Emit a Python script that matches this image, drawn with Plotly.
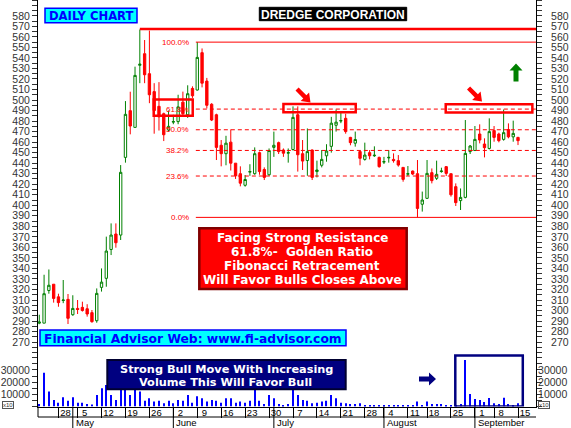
import math
import plotly.graph_objects as go
import pandas as pd

# ---------------- data ----------------
HOLIDAYS = ["2008-05-01", "2008-08-01", "2008-08-15", "2008-09-03"]
dates = [d.strftime("%Y-%m-%d") for d in pd.bdate_range("2008-04-22", "2008-09-15")
         if d.strftime("%Y-%m-%d") not in HOLIDAYS]

open_ = [288, 288, 319, 325, 313, 309.5, 310.6, 296, 302, 303,
         301.7, 298, 290.3, 322, 330.6, 358, 372.7, 371.7, 445.5, 489.9,
         474, 533, 544, 525, 508, 494, 487, 471.5, 479, 479.5,
         498, 486, 511, 509.5, 545, 518, 496, 486, 457, 449,
         460, 440, 430, 419, 431.5, 430, 450, 434, 429, 455,
         459.5, 452.5, 449.5, 453, 486, 449, 442.5, 452.5, 432, 438,
         447, 456, 476, 480, 482.6, 464.5, 459, 451, 443.6, 450,
         447, 445.5, 441, 445, 443.6, 442.4, 436, 429.5, 432.5, 430,
         401, 406.6, 431, 425.6, 432, 436.7, 430, 417.7, 404.4, 407.5,
         451, 452, 467.7, 458.2, 454, 471, 467.7, 462.6, 472, 465,
         464.5]
high = [296, 334, 339, 325, 316, 329, 315.7, 314.5, 310, 308.4,
        306, 300.5, 321, 340, 370.2, 382.8, 382.8, 438.2, 499, 507.9,
        531.7, 567, 557, 566, 516, 517, 488, 490, 486, 505,
        508, 514, 513, 555, 549, 521, 497, 487, 462, 466,
        472, 440, 437, 428.7, 439, 455, 451, 436, 454, 470,
        460.5, 454, 454, 494, 494, 462, 473, 453, 442.4, 452.5,
        458, 484, 491, 489, 487, 465, 470, 452, 459.5, 452.5,
        456, 446.2, 446, 452.5, 449.3, 447.7, 436, 437.3, 433, 443,
        413, 443, 435, 442.4, 435.7, 437.3, 430, 420.8, 416, 481,
        457.3, 475.3, 476.9, 463.6, 482.6, 475.3, 469, 491, 477.8, 480.4,
        465]
low = [287, 288, 316, 307.5, 303.6, 307, 287.2, 295, 296.7, 299,
       294.2, 288.4, 288.4, 318, 322.6, 352.7, 359.7, 367, 440.5, 467.4,
       474, 516, 516, 497, 468, 471, 461, 470, 477, 477,
       484, 483, 502, 509, 512, 492, 480, 443, 437, 438,
       433, 425, 418, 417.7, 428, 429, 429, 424, 428, 446,
       448.7, 446, 440.5, 452, 432, 433.5, 428, 424, 426.5, 436,
       441.4, 450, 470, 478, 468, 457, 455.7, 438, 442.4, 443.6,
       446, 435.7, 439.2, 440.5, 440.5, 436.7, 422.4, 427.8, 428.7, 388.5,
       394, 406, 420.8, 424, 431, 427.8, 408.2, 399.3, 395.5, 406.6,
       448.7, 451.9, 458.8, 445.5, 453, 460.4, 459.8, 461.4, 463.6, 460.4,
       457.2]
close = [289, 316, 324, 311.5, 307.5, 310, 292.6, 302, 301, 300,
         296.7, 289.4, 316.3, 327, 356.5, 371.7, 364.4, 431.3, 486.4, 475.3,
         523.4, 534, 524, 505, 490, 484, 467, 475, 479.5, 493.5,
         487, 506, 504, 540.5, 516, 495, 481, 455, 449, 459,
         440, 428, 421, 424.5, 432, 449, 432, 426.5, 452, 457,
         451, 449.5, 450, 483.5, 448, 442, 451, 426.5, 433.5, 443.6,
         451.5, 478, 479, 480.5, 470, 459.5, 462.5, 444.6, 447.7, 447,
         447.5, 436.7, 441.5, 445.5, 442.4, 438.2, 424.6, 430, 429.7, 397,
         405, 430.3, 423.4, 429.4, 432.5, 430.3, 410, 402.5, 407.5, 449.3,
         456.3, 462.6, 462, 454.7, 470, 464.5, 461.4, 469, 465, 468.3,
         461.4]
volume = [2000, 27700, 12200, 5300, 3100, 7500, 4800, 7500, 3100, 3100,
          2000, 1700, 9400, 14900, 17600, 9400, 5300, 16800, 14100, 9400,
          15700, 12200, 4800, 6700, 4000, 4800, 2600, 4800, 2600, 5300,
          4800, 9400, 3100, 8300, 6700, 4000, 5300, 4800, 3100, 6700,
          6700, 3100, 4000, 3100, 4800, 13500, 4800, 2000, 9400, 6700,
          2000, 1200, 2000, 13500, 9400, 5300, 4800, 2600, 3100, 4000,
          4800, 9400, 6700, 3100, 2600, 2000, 2000, 2600, 1200, 1200,
          1000, 800, 600, 900, 700, 500, 900, 600, 800, 4000,
          1200, 4000, 2000, 2000, 2000, 1200, 1200, 600, 2000, 38100,
          10200, 6200, 5300, 3700, 7000, 2600, 2000, 7200, 2000, 900,
          2600]

week_ticks = ["2008-04-28", "2008-05-05", "2008-05-12", "2008-05-19", "2008-05-26",
              "2008-06-02", "2008-06-09", "2008-06-16", "2008-06-23", "2008-06-30",
              "2008-07-07", "2008-07-14", "2008-07-21", "2008-07-28", "2008-08-04",
              "2008-08-11", "2008-08-18", "2008-08-25", "2008-09-01", "2008-09-08",
              "2008-09-15"]
week_labels = ["28", "5", "12", "19", "26", "2", "9", "16", "23", "30", "7",
               "14", "21", "28", "4", "11", "18", "25", "1", "8", "15"]
month_starts = ["2008-05-02", "2008-06-02", "2008-07-01", "2008-08-04", "2008-09-01"]
month_labels = ["May", "June", "July", "August", "September"]

price_ticks = list(range(270, 591, 10))
volume_ticks = [10000, 20000, 30000]
volume_tick_text = ["10000", "20000", "30000"]

peak_level = 567.5
peak_date = "2008-05-22"
fib_low, fib_high = 388.5, 555.0
fib_start_date = "2008-06-09"
fib_ratios = [0.0, 0.236, 0.382, 0.5, 0.618, 1.0]
fib_labels = ["0.0%", "23.6%", "38.2%", "50.0%", "61.8%", "100.0%"]

# ---------------- geometry helpers ----------------
W, H = 571, 428
ML, MR = 38, 35
PW = W - ML - MR


def px(x):
    return (x - ML) / PW


def py(y):
    return 1 - y / H


PRICE_PER_PX = 1 / 1.0525
p_top = 590 + 5.3 * PRICE_PER_PX
p_bot = 590 - (354 - 5.3) * PRICE_PER_PX
v_top = (406.5 - 354) / 12.2 * 10000
x_lo, x_hi = -0.27, 103.76

idx = {d: i for i, d in enumerate(dates)}

RED = "#ff0000"
GREEN = "#008000"
NAVY = "#000080"
BOLD = "DejaVu Sans"
AX = dict(family="Liberation Sans, Arial", size=10.5, color="#333333")

fig = go.Figure()
fig.add_trace(go.Candlestick(
    x=dates, open=open_, high=high, low=low, close=close,
    xaxis="x", yaxis="y", whiskerwidth=0,
    increasing=dict(line=dict(color=GREEN, width=1), fillcolor="white"),
    decreasing=dict(line=dict(color=RED, width=1), fillcolor=RED),
    showlegend=False, hoverinfo="skip"))
fig.add_trace(go.Scatter(x=dates, y=close, xaxis="x", yaxis="y3", mode="lines",
                         line=dict(width=0), opacity=0, showlegend=False, hoverinfo="skip"))
fig.add_trace(go.Bar(x=dates, y=volume, xaxis="x", yaxis="y2", width=0.22,
                     marker=dict(color="#0000ff", line=dict(width=0)),
                     showlegend=False, hoverinfo="skip"))
fig.add_trace(go.Scatter(x=dates, y=volume, xaxis="x", yaxis="y4", mode="lines",
                         line=dict(width=0), opacity=0, showlegend=False, hoverinfo="skip"))

shapes = []
annotations = []

# peak resistance line
shapes.append(dict(type="line", xref="x", yref="y", x0=idx[peak_date], x1=x_hi,
                   y0=peak_level, y1=peak_level, line=dict(color=RED, width=2.5)))
# fibonacci levels
fib_x0 = idx[fib_start_date] - 0.3
for r, lab in zip(fib_ratios, fib_labels):
    lvl = fib_low + r * (fib_high - fib_low)
    dash = "solid" if r in (0.0, 1.0) else "4px,3px"
    shapes.append(dict(type="line", xref="x", yref="y", x0=fib_x0, x1=x_hi,
                       y0=lvl, y1=lvl, line=dict(color=RED, width=1, dash=dash)))
    annotations.append(dict(x=fib_x0, y=lvl, xref="x", yref="y", text=lab, showarrow=False,
                            xanchor="right", yanchor="middle", xshift=-5,
                            font=dict(family="Liberation Sans, Arial", size=8, color=RED)))

# resistance boxes (x in trading-day index, y in price)
res_boxes = [(23.9, 32.05, 485.0, 500.5), (51.0, 66.1, 488.3, 496.2), (84.9, 103.0, 488.1, 496.1)]
for x0, x1, y0, y1 in res_boxes:
    shapes.append(dict(type="rect", xref="x", yref="y", x0=x0, x1=x1, y0=y0, y1=y1,
                       line=dict(color=RED, width=2.5), fillcolor="rgba(0,0,0,0)"))

# navy box around volume spike
shapes.append(dict(type="rect", xref="x", yref="y2", x0=86.9, x1=101.0, y0=0, y1=41900,
                   line=dict(color=NAVY, width=2.5), fillcolor="rgba(0,0,0,0)"))


# ----- block arrows (decorations, drawn in pixel space) -----
def arrow(tip, angle_deg, length, head_len, head_half, shaft_half, color):
    a = math.radians(angle_deg)
    ca, sa = math.cos(a), math.sin(a)
    local = [(0, 0), (-head_len, -head_half), (-head_len, -shaft_half), (-length, -shaft_half),
             (-length, shaft_half), (-head_len, shaft_half), (-head_len, head_half)]
    pts = [(tip[0] + x * ca - y * sa, tip[1] + x * sa + y * ca) for x, y in local]
    path = "M " + " L ".join("%.5f,%.5f" % (px(x), py(y)) for x, y in pts) + " Z"
    shapes.append(dict(type="path", xref="paper", yref="paper", path=path,
                       fillcolor=color, line=dict(width=0), layer="above"))


arrow((310.5, 102.5), 45, 19, 8, 6, 2.2, RED)
arrow((482.0, 101.5), 45, 19, 8, 6, 2.2, RED)
arrow((516.0, 63.5), -90, 18, 7, 6.5, 2.5, GREEN)
arrow((436.0, 379.0), 0, 17, 7, 6.5, 2.5, NAVY)


# ----- text boxes -----
def box(x0, x1, y0, y1, fill, line, lw):
    shapes.append(dict(type="rect", xref="paper", yref="paper", x0=px(x0), x1=px(x1),
                       y0=py(y1), y1=py(y0), fillcolor=fill, line=dict(color=line, width=lw),
                       layer="above"))


def text(x, y, s, size, color, family=BOLD, bold=True):
    annotations.append(dict(x=px(x), y=py(y), xref="paper", yref="paper",
                            text=("<b>%s</b>" % s) if bold else s, showarrow=False,
                            xanchor="center", yanchor="middle",
                            font=dict(family=family, size=size, color=color)))


box(45, 137, 8.3, 22.7, "#00ffff", "#0000ff", 1.5)
text(91, 16.3, "DAILY CHART", 11.6, "#0000ff")
box(259.3, 406.7, 7.3, 20.7, "#000000", "#000000", 1)
text(333, 14.8, "DREDGE CORPORATION", 12, "#ffffff", family="Liberation Sans, Arial")

box(199.3, 406.7, 228.3, 289, RED, "#800000", 2.5)
for i, s in enumerate(["Facing Strong Resistance", "61.8%-&nbsp;&nbsp;Golden Ratio",
                       "Fibonacci Retracement", "Will Favor Bulls Closes Above"]):
    text(302, 237.6 + 14.2 * i, s, 12, "#ffffff")

box(40, 346, 330, 345.7, "#00ffff", "#0000ff", 1.5)
text(192.5, 338.8, "Financial Advisor Web: www.fi-advisor.com", 12.3, "#0000ff")

box(107.3, 345.7, 360, 389.3, NAVY, "#000030", 2)
text(226, 369.2, "Strong Bull Move With Increasing", 11.3, "#ffffff")
text(225, 382.3, "Volume This Will Favor Bull", 11.3, "#ffffff")

for xx in (8, 544):
    annotations.append(dict(x=px(xx), y=py(404.5), xref="paper", yref="paper", text="x10",
                            showarrow=False, xanchor="center", yanchor="middle",
                            font=dict(family="Liberation Sans, Arial", size=6, color="#333333"),
                            bordercolor="#555555", borderwidth=1, borderpad=0))

# ----- date rows -----
shapes.append(dict(type="line", xref="paper", yref="paper", x0=0, x1=1, y0=py(417), y1=py(417),
                   line=dict(color="black", width=1)))
shapes.append(dict(type="line", xref="paper", yref="paper", x0=0, x1=0, y0=py(417), y1=py(406.5),
                   line=dict(color="black", width=1)))
for m, lab in zip(month_starts, month_labels):
    shapes.append(dict(type="line", xref="x", yref="paper", x0=idx[m], x1=idx[m],
                       y0=0, y1=py(406.5), line=dict(color="black", width=1)))
    annotations.append(dict(x=idx[m], y=py(422.5), xref="x", yref="paper", text=lab,
                            showarrow=False, xanchor="left", yanchor="middle", xshift=1,
                            font=dict(family="Liberation Sans, Arial", size=9.5, color="black")))

yax_common = dict(showgrid=False, zeroline=False, showline=True, linecolor="black", linewidth=1,
                  ticks="outside", ticklen=5, tickcolor="#333333", tickfont=AX, fixedrange=True)

fig.update_layout(
    width=W, height=H, margin=dict(l=ML, r=MR, t=0, b=0, pad=0),
    paper_bgcolor="white", plot_bgcolor="white", hovermode=False, showlegend=False,
    boxgap=0.3,
    xaxis=dict(type="category", categoryorder="array", categoryarray=dates, range=[x_lo, x_hi],
               anchor="y2", showgrid=False, zeroline=False, showline=True, linecolor="black",
               ticks="outside", ticklen=10, tickcolor="black", tickmode="array",
               tickvals=week_ticks, ticktext=week_labels, ticklabelstandoff=-13,
               ticklabelshift=7,
               tickfont=dict(family="Liberation Sans, Arial", size=9.5, color="black"),
               rangeslider=dict(visible=False), fixedrange=True),
    yaxis=dict(domain=[py(354), 1], range=[p_bot, p_top], tickmode="array",
               tickvals=price_ticks, side="left",
               minor=dict(tick0=0, dtick=5, ticks="outside", ticklen=5, tickcolor="#333333"),
               **yax_common),
    yaxis3=dict(overlaying="y", side="right", range=[p_bot, p_top], tickmode="array",
                tickvals=price_ticks, ticklabelstandoff=7,
                minor=dict(tick0=0, dtick=5, ticks="outside", ticklen=5, tickcolor="#333333"),
                **yax_common),
    yaxis2=dict(domain=[py(406.5), py(354)], range=[0, v_top], tickmode="array",
                tickvals=volume_ticks, ticktext=volume_tick_text, side="left",
                minor=dict(tick0=0, dtick=5000, ticks="outside", ticklen=5, tickcolor="#333333"),
                **yax_common),
    yaxis4=dict(overlaying="y2", side="right", range=[0, v_top], tickmode="array",
                tickvals=volume_ticks, ticktext=volume_tick_text, ticklabelstandoff=-6,
                minor=dict(tick0=0, dtick=5000, ticks="outside", ticklen=5, tickcolor="#333333"),
                **yax_common),
    shapes=shapes, annotations=annotations,
)

fig.write_html("out.html", config={"displayModeBar": False},
               post_script="document.body.style.margin='0';")
